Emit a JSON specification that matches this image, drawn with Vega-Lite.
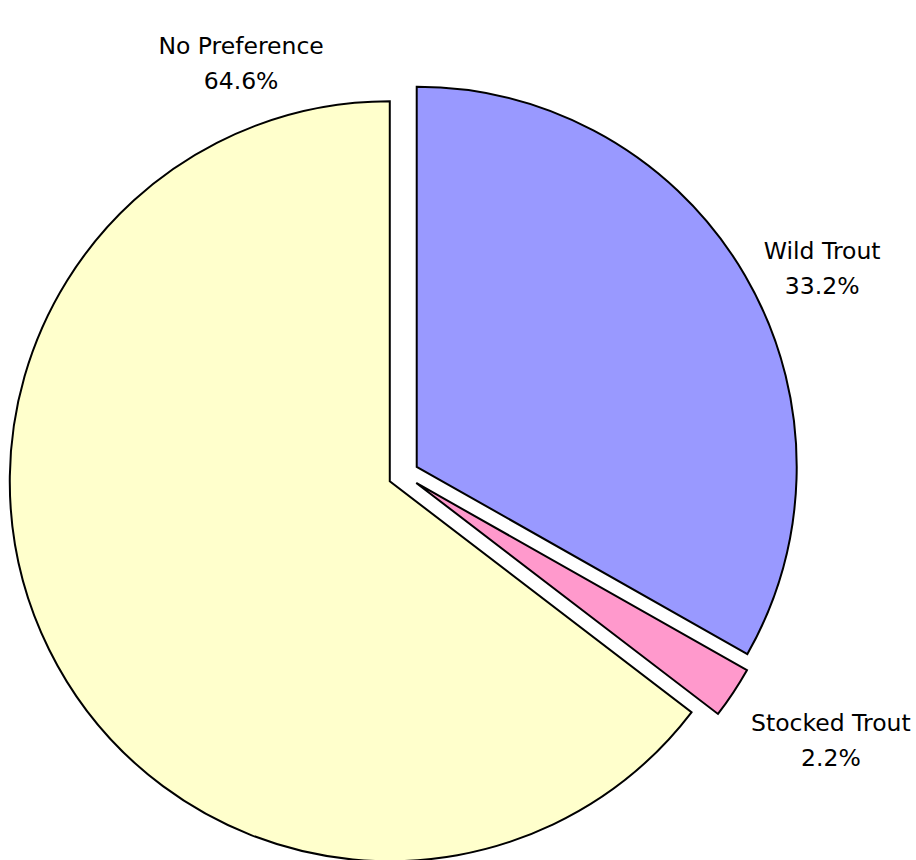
{
  "$schema": "https://vega.github.io/schema/vega-lite/v6.json",
  "width": 807,
  "height": 771,
  "padding": {"left": 0, "top": 89, "right": 109, "bottom": 0},
  "autosize": {"type": "none"},
  "background": "white",
  "view": {"stroke": null},
  "data": {
    "values": [
      {"category": "Wild Trout", "value": 33.2, "label": "Wild Trout\n33.2%"},
      {"category": "Stocked Trout", "value": 2.2, "label": "Stocked Trout\n2.2%"},
      {"category": "No Preference", "value": 64.6, "label": "No Preference\n64.6%"}
    ]
  },
  "encoding": {
    "theta": {"field": "value", "type": "quantitative", "stack": true},
    "order": {"field": "category", "sort": "descending"}
  },
  "layer": [
    {
      "mark": {
        "type": "arc",
        "outerRadius": 380,
        "stroke": "black",
        "strokeWidth": 2,
        "strokeJoin": "miter",
        "xOffset": {"expr": "15.3*sin(scale('theta', 0.5*datum.value_start + 0.5*datum.value_end))"},
        "yOffset": {"expr": "-15.3*cos(scale('theta', 0.5*datum.value_start + 0.5*datum.value_end))"}
      },
      "encoding": {
        "color": {
          "field": "category",
          "type": "nominal",
          "scale": {
            "domain": ["Wild Trout", "Stocked Trout", "No Preference"],
            "range": ["#9999FF", "#FF99CC", "#FFFFCC"]
          },
          "legend": null
        }
      }
    },
    {
      "mark": {
        "type": "text",
        "radius": 480,
        "font": "DejaVu Sans",
        "fontSize": 23.5,
        "lineHeight": 35,
        "lineBreak": "\n",
        "align": "center",
        "baseline": "middle",
        "color": "black",
        "dx": {"expr": "datum.category === 'No Preference' ? 268 : datum.category === 'Stocked Trout' ? 27 : 4"},
        "dy": {"expr": "datum.category === 'No Preference' ? -640 : datum.category === 'Stocked Trout' ? -15 : 19"}
      },
      "encoding": {
        "text": {"field": "label", "type": "nominal"}
      }
    }
  ]
}
